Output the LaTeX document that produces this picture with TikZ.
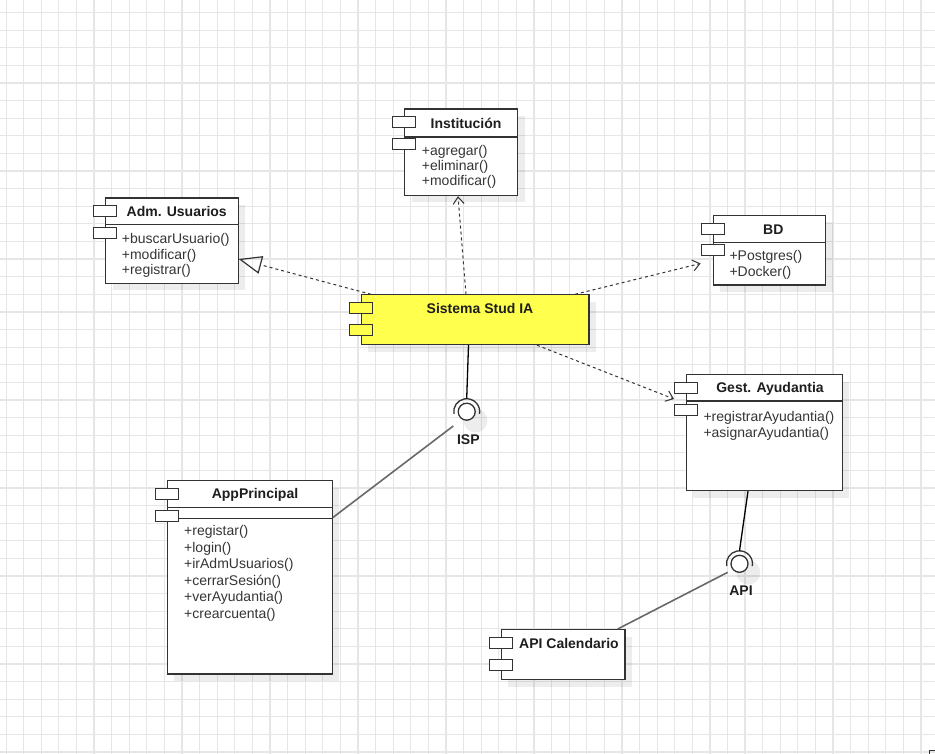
\documentclass[tikz,border=0pt]{standalone}
\usepackage{fontspec}
\setmainfont{Liberation Sans}
\usetikzlibrary{arrows.meta,calc}

\definecolor{gridgray}{RGB}{230,230,230}
\definecolor{sysyellow}{RGB}{255,255,77}
\definecolor{edge}{RGB}{51,51,51}
\definecolor{wire}{RGB}{105,105,105}
\definecolor{txt}{RGB}{30,30,30}

\tikzset{
  gridline/.style={draw=gridgray, line width=1.2pt},
  compbox/.style={draw=edge, line width=1.2pt, inner sep=0pt, anchor=north west},
  portbox/.style={draw=edge, line width=1pt},
  shadowfill/.style={fill=black, fill opacity=0.07, draw=none},
  sepline/.style={draw=edge, line width=1.2pt},
  title/.style={font=\fontsize{14}{16}\selectfont\bfseries, text=txt, inner sep=0pt, text height=10pt, text depth=3pt},
  op/.style={font=\fontsize{14}{16}\selectfont, text=txt!90, inner sep=0pt, anchor=west, text height=10pt, text depth=3pt},
  dep/.style={draw=edge, line width=1pt, dash pattern=on 3pt off 3pt,
    -{Straight Barb[length=7pt,width=11pt,line width=1pt]}},
  realize/.style={draw=edge, line width=1pt, dash pattern=on 3pt off 3pt,
    -{Triangle[open,length=23pt,width=18pt,line width=1.2pt]}},
  ball/.style={circle, draw=edge, line width=1.3pt, fill=white, minimum size=17pt, inner sep=0pt},
  wirelink/.style={draw=wire, line width=1.6pt},
  solidlink/.style={draw=black, line width=1.3pt},
}

% component box with drop shadow: name, x, y, width, height, fill
\newcommand\umlbox[6]{%
  \fill[shadowfill] (#2+7.5,#3+7.5) rectangle ++(#4,#5);
  \node[compbox, fill=#6, minimum width=#4pt, minimum height=#5pt] (#1) at (#2,#3) {};
}
% the two port rectangles on the left edge of a component
\newcommand\umlports[2]{%
  \filldraw[portbox, fill=#2] ($(#1.north west)+(-11.5,8.5)$) rectangle ++(23,11);
  \filldraw[portbox, fill=#2] ($(#1.north west)+(-11.5,30)$) rectangle ++(23,11);
}
% horizontal compartment line at a given depth below the top edge
\newcommand\umlsep[2]{%
  \draw[sepline] ($(#1.north west)+(0,#2)$) -- ($(#1.north east)+(0,#2)$);
}
% operation list: name, x, first y, spacing, items
\newcommand\umlops[5]{%
  \foreach \t [count=\i from 0] in {#5}
    \node[op] (#1-op\i) at (#2,#3+#4*\i) {\t};
}

\begin{document}
\begin{tikzpicture}[x=1pt,y=-1pt]
  \useasboundingbox (0,0) rectangle (935,754);
  \fill[white] (0,0) rectangle (935,754);

  % background grid
  \foreach \k in {0,...,52}
    \draw[gridline] (6.1+17.595*\k,0) -- ++(0,754);
  \foreach \k in {0,...,42}
    \draw[gridline] (0,12.7+17.6*\k) -- ++(935,0);

  % components
  \umlbox{inst}{404}{108.5}{113}{86.5}{white}
  \umlsep{inst}{28.5}
  \umlports{inst}{white}
  \node[title] (inst-title) at (466,125) {Institución};
  \umlops{inst}{421.7}{151.7}{15.2}{+agregar(),+eliminar(),+modificar()}

  \umlbox{adm}{105}{197.5}{132.5}{85.5}{white}
  \umlsep{adm}{27}
  \umlports{adm}{white}
  \node[title] (adm-title) at (176.7,213.3) {Adm. Usuarios};
  \umlops{adm}{121.7}{240.3}{15.3}{+buscarUsuario(),+modificar(),+registrar()}

  \umlbox{bd}{712.5}{215}{112.5}{69.5}{white}
  \umlsep{bd}{27.5}
  \umlports{bd}{white}
  \node[title] (bd-title) at (773.3,231) {BD};
  \umlops{bd}{729.3}{257}{16.5}{+Postgres(),+Docker()}

  \umlbox{sis}{360.5}{294.3}{227.8}{49.7}{sysyellow}
  \umlports{sis}{sysyellow}
  \node[title] (sis-title) at (480,310) {Sistema Stud IA};

  \umlbox{gest}{685.7}{374}{156}{116}{white}
  \umlsep{gest}{27}
  \umlports{gest}{white}
  \node[title] (gest-title) at (770,388.7) {Gest. Ayudantia};
  \umlops{gest}{703.3}{417.7}{16.6}{+registrarAyudantia(),+asignarAyudantia()}

  \umlbox{app}{166.7}{480}{165}{193.3}{white}
  \umlsep{app}{27.3}
  \umlsep{app}{38.3}
  \umlports{app}{white}
  \node[title] (app-title) at (255,495.3) {AppPrincipal};
  \umlops{app}{184}{532}{16.6}{+registar(),+login(),+irAdmUsuarios(),+cerrarSesión(),+verAyudantia(),+crearcuenta()}

  \umlbox{cal}{500.7}{629}{123.6}{50}{white}
  \umlports{cal}{white}
  \node[title] (cal-title) at (569,645.3) {API Calendario};

  % provided interfaces (ball and socket)
  \fill[shadowfill] (475.5,420.5) circle (12pt);
  \node[ball] (isp) at (466.7,411.7) {};
  \draw[edge, line width=1.3pt] ($(isp.center)+(190:13pt)$) arc[start angle=190, end angle=-10, radius=13pt];
  \coordinate (isp-top) at ($(isp.center)+(90:13pt)$);
  \coordinate (isp-in) at ($(isp.center)+(-13.4,14.3)$);
  \node[title] (isp-label) at (468.3,441) {ISP};

  \fill[shadowfill] (748.3,572.6) circle (12pt);
  \node[ball] (api) at (739.5,563.8) {};
  \draw[edge, line width=1.3pt] ($(api.center)+(190:13pt)$) arc[start angle=190, end angle=-10, radius=13pt];
  \coordinate (api-top) at ($(api.center)+(90:13pt)$);
  \coordinate (api-in) at ($(api.center)+(-11.8,8.5)$);
  \node[title] (api-label) at (741,592) {API};

  % dependencies of the core system
  \draw[dep] ($(sis.north west)+(105.5,0)$) -- ($(inst.south west)+(54,0)$);
  \draw[realize] ($(sis.north west)+(10.5,0)$) -- ($(adm.north east)+(0,61.5)$);
  \draw[dep] ($(sis.north west)+(214.5,0)$) -- ($(bd.north west)+(-12,48.5)$);
  \draw[dep] ($(sis.south west)+(176.5,0)$) -- ($(gest.north west)+(-11.7,25)$);

  % interface wiring
  \draw[solidlink] ($(sis.south west)+(108,0)$) -- (isp-top);
  \draw[wirelink] ($(app.north east)+(0,37.5)$) -- (isp-in);
  \draw[solidlink] ($(gest.south west)+(62.3,0)$) -- (api-top);
  \draw[wirelink] ($(cal.north west)+(117,0)$) -- (api-in);

  % corner mark
  \draw[edge, line width=1pt] (929.5,754) -- (929.5,750.5) -- (935,750.5);
\end{tikzpicture}
\end{document}
